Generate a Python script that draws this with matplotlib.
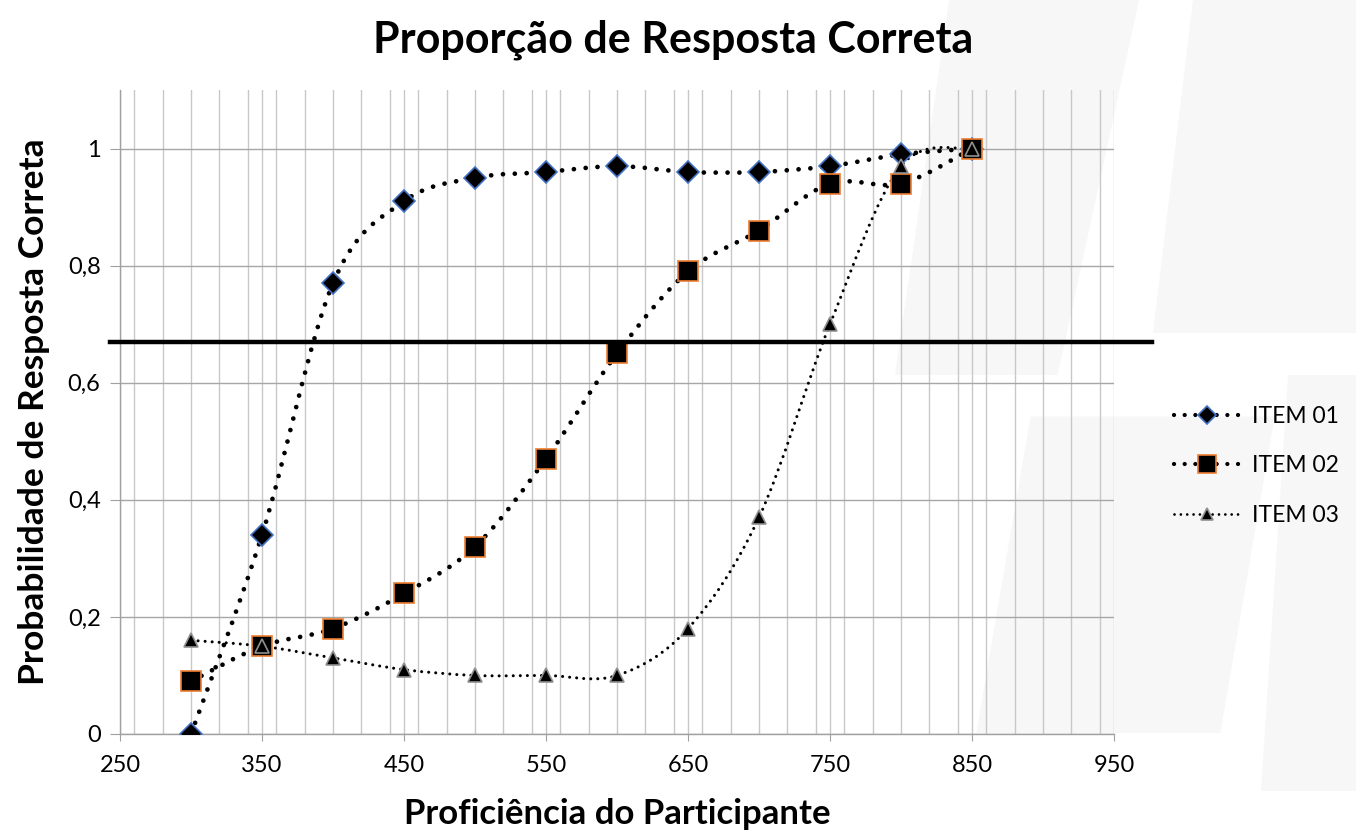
import numpy as np
import matplotlib
matplotlib.use("Agg")
import matplotlib.pyplot as plt
from matplotlib.path import Path
from matplotlib.patches import PathPatch, Polygon
from matplotlib.lines import Line2D
from matplotlib.ticker import MultipleLocator, FixedLocator

plt.rcParams['font.family'] = ['Lato', 'DejaVu Sans']

# ---- data ----
proficiency = [300, 350, 400, 450, 500, 550, 600, 650, 700, 750, 800, 850]
item01 = [0.00, 0.34, 0.77, 0.91, 0.95, 0.96, 0.97, 0.96, 0.96, 0.97, 0.99, 1.00]
item02 = [0.09, 0.15, 0.18, 0.24, 0.32, 0.47, 0.65, 0.79, 0.86, 0.94, 0.94, 1.00]
item03 = [0.16, 0.15, 0.13, 0.11, 0.10, 0.10, 0.10, 0.18, 0.37, 0.70, 0.97, 1.00]
series_names = ["ITEM 01", "ITEM 02", "ITEM 03"]
x_ticks = [250, 350, 450, 550, 650, 750, 850, 950]
y_ticks = [0, 0.2, 0.4, 0.6, 0.8, 1.0]
y_tick_labels = ["0", "0,2", "0,4", "0,6", "0,8", "1"]
threshold = 0.67

W, H = 1356, 833
fig = plt.figure(figsize=(W / 100, H / 100), dpi=100)

# very faint watermark shapes on the right (background)
wm = [
    [(0.70, 1.0), (0.84, 1.0), (0.78, 0.55), (0.66, 0.55)],
    [(0.88, 1.0), (1.0, 1.0), (1.0, 0.60), (0.85, 0.60)],
    [(0.76, 0.50), (0.94, 0.50), (0.90, 0.12), (0.72, 0.12)],
    [(0.95, 0.55), (1.0, 0.55), (1.0, 0.05), (0.93, 0.05)],
]
for poly in wm:
    fig.patches.append(Polygon(poly, closed=True, transform=fig.transFigure,
                               facecolor='#f7f7f7', edgecolor='none', zorder=-5))

ax = fig.add_axes([120 / W, 1 - 734 / H, (1114 - 120) / W, (734 - 90) / H])
ax.set_zorder(2)
ax.set_facecolor('none')
ax.set_xlim(250, 950)
ax.set_ylim(0, 1.1)

ax.xaxis.set_major_locator(FixedLocator(x_ticks))
ax.xaxis.set_minor_locator(MultipleLocator(20))
ax.yaxis.set_major_locator(FixedLocator(y_ticks))
ax.set_yticklabels(y_tick_labels)
ax.set_xticklabels([str(v) for v in x_ticks])

ax.grid(which='major', axis='y', color='#a6a6a6', lw=1.0, zorder=0)
ax.grid(which='both', axis='x', color='#c8c8c8', lw=1.0, zorder=0)
ax.set_axisbelow(True)
for s in ['top', 'right']:
    ax.spines[s].set_visible(False)
for s in ['left', 'bottom']:
    ax.spines[s].set_color('#a0a0a0')
    ax.spines[s].set_linewidth(1.0)
ax.tick_params(axis='y', which='major', length=7, color='#a0a0a0', labelsize=17, pad=7)
ax.tick_params(axis='x', which='major', length=5, color='#a0a0a0', labelsize=17, pad=10)
ax.tick_params(axis='x', which='minor', length=0)


def excel_smooth_path(xs, ys):
    xs = np.asarray(xs, float)
    ys = np.asarray(ys, float)
    n = len(xs)
    verts = [(xs[0], ys[0])]
    codes = [Path.MOVETO]
    for i in range(n - 1):
        p0 = i - 1 if i > 0 else i
        p3 = i + 2 if i + 2 < n else i + 1
        c1 = (xs[i] + (xs[i + 1] - xs[p0]) / 6, ys[i] + (ys[i + 1] - ys[p0]) / 6)
        c2 = (xs[i + 1] - (xs[p3] - xs[i]) / 6, ys[i + 1] - (ys[p3] - ys[i]) / 6)
        verts += [c1, c2, (xs[i + 1], ys[i + 1])]
        codes += [Path.CURVE4] * 3
    return Path(verts, codes)


styles = [
    dict(lw=3.4, dash=(0, (0.01, 2.5)), marker='D', ms=11, mec='#4472c4', mew=1.2),
    dict(lw=3.4, dash=(0, (0.01, 2.5)), marker='s', ms=15, mec='#ed7d31', mew=1.2),
    dict(lw=2.2, dash=(0, (0.01, 2.3)), marker='^', ms=10, mec='#909090', mew=1.2),
]
handles = []
for k, (vals, st) in enumerate(zip([item01, item02, item03], styles)):
    path = excel_smooth_path(proficiency, vals)
    patch = PathPatch(path, facecolor='none', edgecolor='black', lw=st['lw'],
                      linestyle=st['dash'], capstyle='round', zorder=3 + k)
    ax.add_patch(patch)
    ax.plot(proficiency, vals, linestyle='none', marker=st['marker'], ms=st['ms'],
            mfc='black', mec=st['mec'], mew=st['mew'], zorder=6 + k)
    h = Line2D([], [], color='black', lw=st['lw'] * 0.9, linestyle=st['dash'],
               dash_capstyle='round', marker=st['marker'], ms=st['ms'] * 0.85,
               mfc='black', mec=st['mec'], mew=st['mew'])
    handles.append(h)

# threshold line extending beyond the plot area
ax.plot([243, 977], [threshold, threshold], color='black', lw=3.2, clip_on=False, zorder=10)

leg = fig.legend(handles, series_names, loc='center left',
                 bbox_to_anchor=(1153 / W, 1 - 466 / H), frameon=False,
                 fontsize=16.5, handlelength=2.9, labelspacing=1.25, handletextpad=0.5)

fig.text(673 / W, 1 - 40 / H, "Proporção de Resposta Correta", ha='center', va='center',
         fontsize=31, fontweight='bold')
fig.text(617 / W, 1 - 814 / H, "Proficiência do Participante", ha='center', va='center',
         fontsize=25, fontweight='bold')
fig.text(34 / W, 1 - 412 / H, "Probabilidade de Resposta Correta", ha='center', va='center',
         fontsize=25.5, fontweight='bold', rotation=90)

fig.savefig("out.png", dpi=100)
